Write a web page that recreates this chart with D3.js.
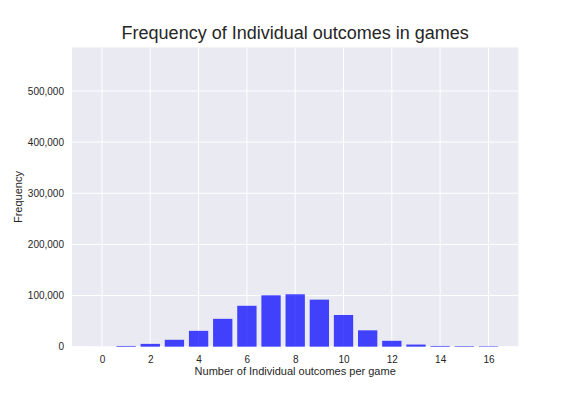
<!DOCTYPE html>
<html><head><meta charset="utf-8">
<script src="https://cdn.jsdelivr.net/npm/d3@7"></script>
<style>body{margin:0;background:#fff}svg{display:block}text{font-family:"Liberation Sans",Arial,sans-serif;fill:#262626}</style>
</head><body>
<script>
const outcomes = [0,1,2,3,4,5,6,7,8,9,10,11,12,13,14,15,16];
const frequency = [50,1500,5500,13500,31000,54500,80000,100500,102500,92000,62000,32000,11500,4200,1500,1200,1000];
const yTicks = [0,100000,200000,300000,400000,500000];
const xTicks = [0,2,4,6,8,10,12,14,16];
const title = "Frequency of Individual outcomes in games";
const xLabel = "Number of Individual outcomes per game";
const yLabel = "Frequency";

const W=576,H=396, L=72, R=518.4, T=47.5, B=346.7;
const svg=d3.select("body").append("svg").attr("width",W).attr("height",H);
const x=d3.scaleLinear().domain([-1.24,17.24]).range([L,R]);
const y=d3.scaleLinear().domain([0,585000]).range([B,T]);

svg.append("rect").attr("x",L).attr("y",T).attr("width",R-L).attr("height",B-T).attr("fill","#EAEAF2");
const g=svg.append("g");
g.selectAll(".vg").data(xTicks).join("line").attr("x1",d=>x(d)).attr("x2",d=>x(d)).attr("y1",T).attr("y2",B).attr("stroke","#fff").attr("stroke-width",1);
g.selectAll(".hg").data(yTicks).join("line").attr("x1",L).attr("x2",R).attr("y1",d=>y(d)).attr("y2",d=>y(d)).attr("stroke","#fff").attr("stroke-width",1);

svg.selectAll(".bar").data(outcomes).join("rect")
  .attr("x",(d)=>x(d-0.4)).attr("width",x(0.8)-x(0))
  .attr("y",(d,i)=>y(frequency[i])).attr("height",(d,i)=>B-y(frequency[i]))
  .attr("fill","blue").attr("fill-opacity",0.72);

const xa=d3.axisBottom(x).tickValues(xTicks).tickSize(0).tickPadding(9).tickFormat(d3.format("d"));
const xg=svg.append("g").attr("transform",`translate(0,${B})`).call(xa);
const ya=d3.axisLeft(y).tickValues(yTicks).tickSize(0).tickPadding(8).tickFormat(d3.format(","));
const yg=svg.append("g").attr("transform",`translate(${L},0)`).call(ya);
[xg,yg].forEach(a=>{a.select(".domain").remove();a.selectAll("text").attr("font-size",10).attr("fill","#262626").attr("font-family","Liberation Sans, Arial, sans-serif");});

svg.append("text").attr("x",(L+R)/2).attr("y",39).attr("text-anchor","middle").attr("font-size",18).text(title);
svg.append("text").attr("x",(L+R)/2).attr("y",374.5).attr("text-anchor","middle").attr("font-size",11).text(xLabel);
svg.append("text").attr("transform",`translate(22,${(T+B)/2}) rotate(-90)`).attr("text-anchor","middle").attr("font-size",11).text(yLabel);
</script>
</body></html>
